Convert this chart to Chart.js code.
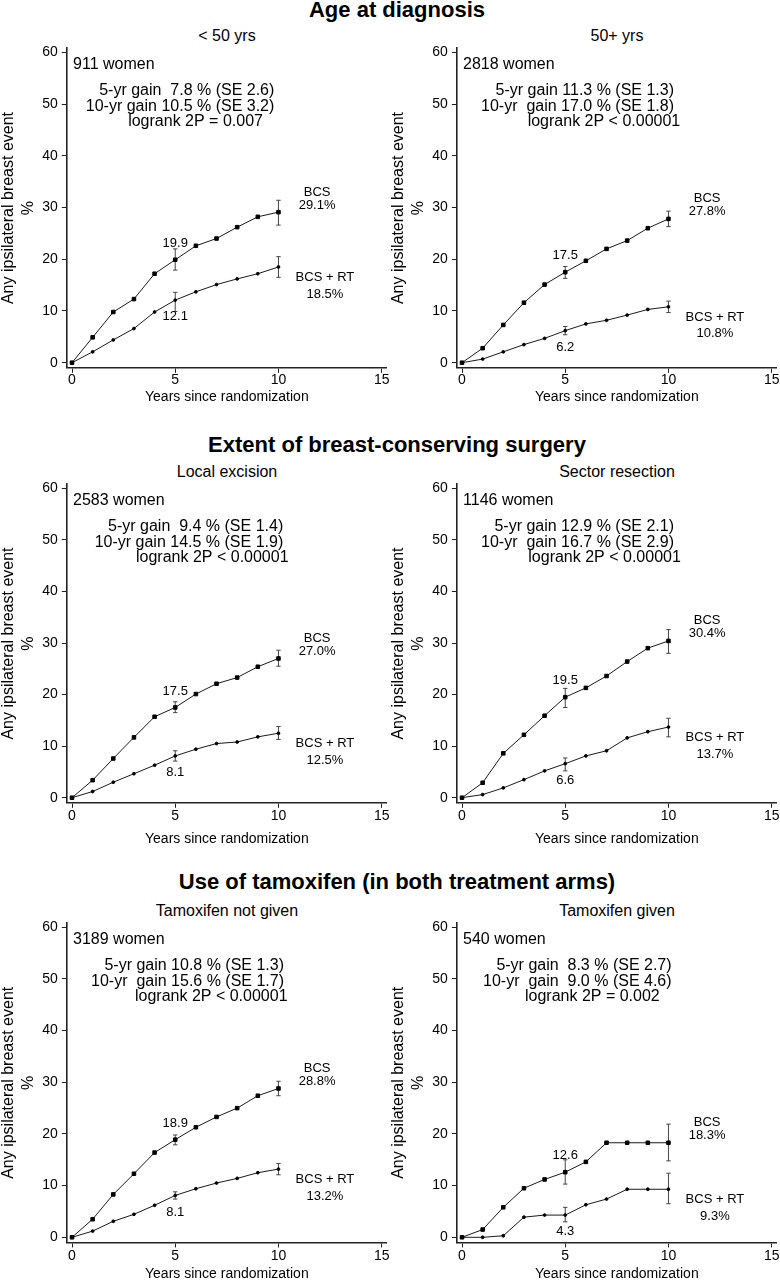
<!DOCTYPE html>
<html>
<head>
<meta charset="utf-8">
<title>Any ipsilateral breast event by subgroup</title>
<script src="https://cdn.jsdelivr.net/npm/chart.js@4.4.1/dist/chart.umd.min.js"></script>
<style>
  body { margin: 0; width: 780px; height: 1280px; overflow: hidden; background: #fff;
         position: relative; font-family: "Liberation Sans", Arial, Helvetica, sans-serif; color: #000; }
  canvas { position: absolute; }
  .head { position: absolute; left: 0; width: 794px; text-align: center; font-weight: bold;
          font-size: 22px; line-height: 26px; white-space: nowrap; }
  .sub { position: absolute; width: 300px; text-align: center; font-size: 16px;
         line-height: 20px; white-space: nowrap; }
</style>
</head>
<body>
<script>
// years at which the life-table points are plotted
var years = [0, 1, 2, 3, 4, 5, 6, 7, 8, 9, 10];
var ciYears = [5, 10];
var xTicks = [0, 5, 10, 15];
var yTicks = [0, 10, 20, 30, 40, 50, 60];

// % with any ipsilateral breast event: BCS alone (squares), BCS + RT (circles)
var bcsUnder50 = [0, 4.9, 9.8, 12.3, 17.2, 19.9, 22.6, 24.0, 26.2, 28.2, 29.1];
var rtUnder50 = [0, 2.1, 4.4, 6.6, 9.8, 12.1, 13.7, 15.1, 16.2, 17.2, 18.5];
var bcs50plus = [0, 2.8, 7.3, 11.6, 15.1, 17.5, 19.7, 22.0, 23.6, 26.0, 27.8];
var rt50plus = [0, 0.7, 2.1, 3.5, 4.7, 6.2, 7.5, 8.2, 9.2, 10.3, 10.8];
var bcsLocal = [0, 3.4, 7.6, 11.7, 15.7, 17.5, 20.1, 22.1, 23.3, 25.4, 27.0];
var rtLocal = [0, 1.2, 3.0, 4.65, 6.3, 8.1, 9.4, 10.5, 10.8, 11.8, 12.5];
var bcsSector = [0, 2.9, 8.6, 12.2, 15.9, 19.5, 21.3, 23.6, 26.4, 29.0, 30.4];
var rtSector = [0, 0.6, 1.9, 3.5, 5.2, 6.6, 8.1, 9.1, 11.6, 12.8, 13.7];
var bcsNoTam = [0, 3.5, 8.3, 12.3, 16.4, 18.9, 21.3, 23.3, 25.0, 27.4, 28.8];
var rtNoTam = [0, 1.2, 3.1, 4.45, 6.2, 8.1, 9.4, 10.5, 11.4, 12.5, 13.2];
var bcsTam = [0, 1.5, 5.8, 9.5, 11.2, 12.6, 14.6, 18.3, 18.3, 18.3, 18.3];
var rtTam = [0, 0, 0.3, 3.9, 4.3, 4.3, 6.3, 7.4, 9.3, 9.3, 9.3];

// error bars at 5 and 10 years: [low, high]
var bcsCiUnder50 = [[17.9, 22.0], [26.6, 31.4]];
var rtCiUnder50 = [[9.9, 13.6], [16.5, 20.5]];
var bcsCi50plus = [[16.3, 18.6], [26.3, 29.3]];
var rtCi50plus = [[5.4, 7.0], [9.7, 11.9]];
var bcsCiLocal = [[16.5, 18.6], [25.5, 28.6]];
var rtCiLocal = [[7.1, 9.1], [11.3, 13.8]];
var bcsCiSector = [[17.5, 21.2], [28.0, 32.6]];
var rtCiSector = [[5.2, 7.7], [11.8, 15.4]];
var bcsCiNoTam = [[17.9, 19.8], [27.4, 30.2]];
var rtCiNoTam = [[7.4, 8.8], [12.1, 14.3]];
var bcsCiTam = [[10.3, 15.0], [14.8, 21.9]];
var rtCiTam = [[3.0, 5.8], [6.5, 12.4]];

var headings = ["Age at diagnosis", "Extent of breast-conserving surgery",
                "Use of tamoxifen (in both treatment arms)"];
var panelTitles = ["< 50 yrs", "50+ yrs", "Local excision", "Sector resection",
                   "Tamoxifen not given", "Tamoxifen given"];
var women = [911, 2818, 2583, 1146, 3189, 540];
var gain5 = ["5-yr gain  7.8 % (SE 2.6)", "5-yr gain 11.3 % (SE 1.3)", "5-yr gain  9.4 % (SE 1.4)",
             "5-yr gain 12.9 % (SE 2.1)", "5-yr gain 10.8 % (SE 1.3)", "5-yr gain  8.3 % (SE 2.7)"];
var gain10 = ["10-yr gain 10.5 % (SE 3.2)", "10-yr  gain 17.0 % (SE 1.8)", "10-yr gain 14.5 % (SE 1.9)",
              "10-yr  gain 16.7 % (SE 2.9)", "10-yr  gain 15.6 % (SE 1.7)", "10-yr  gain  9.0 % (SE 4.6)"];
var logrank = ["logrank 2P = 0.007", "logrank 2P < 0.00001", "logrank 2P < 0.00001",
               "logrank 2P < 0.00001", "logrank 2P < 0.00001", "logrank 2P = 0.002"];

var panels = [
  {bcs: bcsUnder50, rt: rtUnder50, bcsCi: bcsCiUnder50, rtCi: rtCiUnder50},
  {bcs: bcs50plus, rt: rt50plus, bcsCi: bcsCi50plus, rtCi: rtCi50plus},
  {bcs: bcsLocal, rt: rtLocal, bcsCi: bcsCiLocal, rtCi: rtCiLocal},
  {bcs: bcsSector, rt: rtSector, bcsCi: bcsCiSector, rtCi: rtCiSector},
  {bcs: bcsNoTam, rt: rtNoTam, bcsCi: bcsCiNoTam, rtCi: rtCiNoTam},
  {bcs: bcsTam, rt: rtTam, bcsCi: bcsCiTam, rtCi: rtCiTam}
];

// layout (page pixels)
var rows = [
  {t60: 52.3, t0: 362.7, tickY: 380.2, titleY: 396.7, subY: 36.2, headY: 9.5},
  {t60: 488.3, t0: 797.7, tickY: 816.5, titleY: 839.5, subY: 472, headY: 444.5},
  {t60: 927.3, t0: 1237.3, tickY: 1256, titleY: 1273.8, subY: 910.8, headY: 881.7}
];
var cols = [0, 390];
var X0 = 72, X15 = 381.7;
var XMIN = -0.25, XMAX = 15.25, YMIN = -1, YMAX = 60.8;
var CANVAS_W = 400;
// where the gain lines end and the logrank line starts (years)
var gainRight = [9.8, 10.27, 10.23, 10.27, 10.27, 10.15];
var logrankLeft = [2.72, 3.18, 3.1, 3.21, 3.05, 3.05];

var FONT = '"Liberation Sans", Arial, Helvetica, sans-serif';
Chart.defaults.font.family = FONT;
Chart.defaults.color = '#000';

headings.forEach(function (h, i) {
  var d = document.createElement('div');
  d.className = 'head';
  d.textContent = h;
  d.style.top = (rows[i].headY - 12.7) + 'px';
  document.body.appendChild(d);
});

function seriesPoints(vals) {
  return years.map(function (yr, i) { return {x: yr, y: vals[i]}; });
}

function ciPoints(ci) {
  var pts = [];
  ciYears.forEach(function (yr, i) {
    if (i > 0) pts.push({x: (ciYears[i - 1] + yr) / 2, y: null});
    pts.push({x: yr, y: ci[i][0]}, {x: yr, y: ci[i][1]});
  });
  return pts;
}

function notesPlugin(i) {
  var p = panels[i];
  return {
    id: 'notes',
    afterDatasetsDraw: function (chart) {
      var ctx = chart.ctx, xs = chart.scales.x, ys = chart.scales.y;
      function put(txt, dx, dy, size, align) {
        ctx.save();
        ctx.font = size + 'px ' + FONT;
        ctx.fillStyle = '#000';
        ctx.textAlign = align;
        ctx.textBaseline = 'alphabetic';
        ctx.fillText(txt, xs.getPixelForValue(dx), ys.getPixelForValue(dy) + 0.36 * size);
        ctx.restore();
      }
      var b5 = p.bcs[years.indexOf(5)], r5 = p.rt[years.indexOf(5)];
      var b10 = p.bcs[years.indexOf(10)], r10 = p.rt[years.indexOf(10)];
      put(women[i] + ' women', 0.05, 57.8, 16, 'left');
      put(gain5[i], gainRight[i], 52.9, 16, 'right');
      put(gain10[i], gainRight[i], 49.8, 16, 'right');
      put(logrank[i], logrankLeft[i], 46.8, 16, 'left');
      put(b5.toFixed(1), 5, b5 + 3.4, 13, 'center');
      put(r5.toFixed(1), 5, r5 - 3.0, 13, 'center');
      put('BCS', 11.87, b10 + 4.1, 13, 'center');
      put(b10.toFixed(1) + '%', 11.87, b10 + 1.6, 13, 'center');
      put('BCS + RT', 12.25, r10 - 1.75, 13, 'center');
      put(r10.toFixed(1) + '%', 12.25, r10 - 5.0, 13, 'center');
    }
  };
}

function buildPanel(i) {
  var r = rows[Math.floor(i / 2)], left = cols[i % 2], p = panels[i];
  var ppx = (X15 - X0) / 15, ppy = (r.t0 - r.t60) / 60;
  var plotL = X0 + XMIN * ppx, plotR = X0 + XMAX * ppx;
  var plotT = r.t60 - (YMAX - 60) * ppy, plotB = r.t0 - YMIN * ppy;
  var top = Math.floor(plotT - 20);
  var bottom = Math.ceil(r.titleY + 9);

  var sub = document.createElement('div');
  sub.className = 'sub';
  sub.textContent = panelTitles[i];
  sub.style.left = (left + 227 - 150) + 'px';
  sub.style.top = (r.subY - 9.8) + 'px';
  document.body.appendChild(sub);

  var cv = document.createElement('canvas');
  cv.width = CANVAS_W;
  cv.height = bottom - top;
  cv.style.left = left + 'px';
  cv.style.top = top + 'px';
  document.body.appendChild(cv);

  var xAxisH = bottom - plotB;
  var xTickPad = r.tickY - 7 - 5 - plotB;
  var xTitlePad = bottom - r.titleY - 8.4;
  var lineCol = '#1a1a1a', ciCol = '#444';

  new Chart(cv, {
    type: 'line',
    data: {
      datasets: [
        {label: 'BCS', data: seriesPoints(p.bcs), borderColor: lineCol, borderWidth: 1,
         pointStyle: 'rect', pointRadius: 2.5, pointHoverRadius: 2.5, pointBorderWidth: 1,
         pointBackgroundColor: '#000', pointBorderColor: '#000', tension: 0},
        {label: 'BCS + RT', data: seriesPoints(p.rt), borderColor: lineCol, borderWidth: 1,
         pointStyle: 'circle', pointRadius: 1.4, pointHoverRadius: 1.4, pointBorderWidth: 1,
         pointBackgroundColor: '#000', pointBorderColor: '#000', tension: 0},
        {label: 'BCS CI', data: ciPoints(p.bcsCi), borderColor: ciCol, borderWidth: 1,
         pointStyle: 'line', pointRadius: 2.2, pointHoverRadius: 2.2, pointBorderWidth: 1,
         pointBorderColor: ciCol, spanGaps: false},
        {label: 'BCS + RT CI', data: ciPoints(p.rtCi), borderColor: ciCol, borderWidth: 1,
         pointStyle: 'line', pointRadius: 2.2, pointHoverRadius: 2.2, pointBorderWidth: 1,
         pointBorderColor: ciCol, spanGaps: false}
      ]
    },
    options: {
      responsive: false,
      animation: false,
      events: [],
      layout: {padding: {left: 0, top: plotT - top, right: CANVAS_W - plotR, bottom: 0}},
      plugins: {legend: {display: false}, tooltip: {enabled: false}},
      scales: {
        x: {
          type: 'linear', min: XMIN, max: XMAX,
          afterBuildTicks: function (s) { s.ticks = xTicks.map(function (v) { return {value: v}; }); },
          afterFit: function (s) { s.height = xAxisH; },
          grid: {drawOnChartArea: false, drawTicks: true, tickLength: 5, tickColor: '#222', tickWidth: 1},
          border: {display: true, color: '#222', width: 1.6},
          ticks: {padding: xTickPad, autoSkip: false, maxRotation: 0, color: '#000',
                  font: {size: 14, lineHeight: 1}},
          title: {display: true, text: 'Years since randomization', color: '#000',
                  font: {size: 14, lineHeight: 1.2}, padding: {top: 0, bottom: xTitlePad}}
        },
        y: {
          type: 'linear', min: YMIN, max: YMAX,
          afterBuildTicks: function (s) { s.ticks = yTicks.map(function (v) { return {value: v}; }); },
          afterFit: function (s) { s.width = plotL; },
          grid: {drawOnChartArea: false, drawTicks: true, tickLength: 5, tickColor: '#222', tickWidth: 1},
          border: {display: true, color: '#222', width: 1.6},
          ticks: {padding: 4, autoSkip: false, color: '#000', font: {size: 14, lineHeight: 1}},
          title: {display: true, text: ['Any ipsilateral breast event', '%'], color: '#000',
                  font: {size: 16, lineHeight: 1.25}, padding: {top: -1, bottom: 0}}
        }
      }
    },
    plugins: [notesPlugin(i)]
  });
}

panels.forEach(function (p, i) { buildPanel(i); });
</script>
</body>
</html>
